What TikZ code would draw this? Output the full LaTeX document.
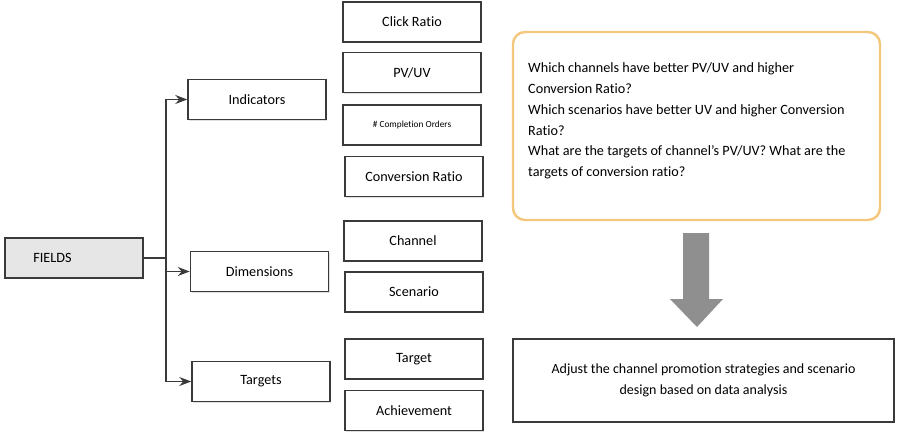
\documentclass[tikz,border=0pt]{standalone}
\usepackage{fontspec}
\setmainfont{Carlito}[Ligatures=NoCommon]
\usetikzlibrary{arrows.meta,shadows}
\definecolor{boxline}{HTML}{3A3A3A}
\definecolor{fieldfill}{HTML}{E6E6E6}
\definecolor{qline}{HTML}{F4C77C}
\definecolor{bigarrow}{HTML}{8F8F8F}
\tikzset{
  box/.style={draw=boxline, line width=1.5pt, fill=white, inner sep=0pt,
    minimum width=138pt, minimum height=40pt,
    drop shadow={opacity=0.25, shadow xshift=1.2pt, shadow yshift=-1.2pt},
    font=\fontsize{14.2}{16}\selectfont},
  conn/.style={draw=boxline, line width=1.5pt},
  arr/.style={conn, -{Stealth[length=12pt,width=9pt,inset=4pt]}},
}
\begin{document}
\begin{tikzpicture}[x=1pt,y=-1pt]
\useasboundingbox (0,0) rectangle (899,433);
% left column
\node[box, fill=fieldfill] (fields) at (74,258) {};
\node[font=\fontsize{14.2}{16}\selectfont] (fieldstxt) at (52.5,258) {FIELDS};
\node[box] (ind) at (257,99.5) {Indicators};
\node[box] (dim) at (259.5,271.5) {Dimensions};
\node[box] (tar) at (261,381.5) {Targets};
% right column
\node[box] (click) at (412,22) {Click Ratio};
\node[box] (pvuv) at (412,72.5) {PV/UV};
\node[box, font=\fontsize{9.3}{11}\selectfont] (compl) at (412,125) {\# Completion Orders};
\node[box] (conv) at (414,176.5) {Conversion Ratio};
\node[box] (chan) at (413,241) {Channel};
\node[box] (scen) at (414,292) {Scenario};
\node[box] (targ) at (414,359) {Target};
\node[box] (ach) at (414,410.5) {Achievement};
% connectors
\coordinate (j) at (166,258);
\draw[conn] (fields.east) -- (j);
\draw[arr] (j) |- (ind.west);
\draw[arr] (j) |- (dim.west);
\draw[arr] (j) |- (tar.west);
% question box
\node[draw=qline, line width=2.4pt, rounded corners=12pt, fill=white,
  minimum width=367pt, minimum height=188pt] (qbox) at (696.5,126) {};
\node[anchor=west, align=left, inner sep=0pt,
  font=\fontsize{14.2}{20.8}\selectfont] (qtxt) at (528,121)
  {Which channels have better PV/UV and higher\\
   Conversion Ratio?\\
   Which scenarios have better UV and higher Conversion\\
   Ratio?\\
   What are the targets of channel’s PV/UV? What are the\\
   targets of conversion ratio?};
% big gray arrow
\fill[bigarrow] (683,233) -- (709,233) -- (709,299) -- (723,299) -- (697,327)
  -- (670,299) -- (683,299) -- cycle;
% result box
\node[box, minimum width=381pt, minimum height=83pt, align=center,
  font=\fontsize{14}{20.5}\selectfont] (res) at (703.5,380.5)
  {Adjust the channel promotion strategies and scenario\\design based on data analysis};
\end{tikzpicture}
\end{document}
